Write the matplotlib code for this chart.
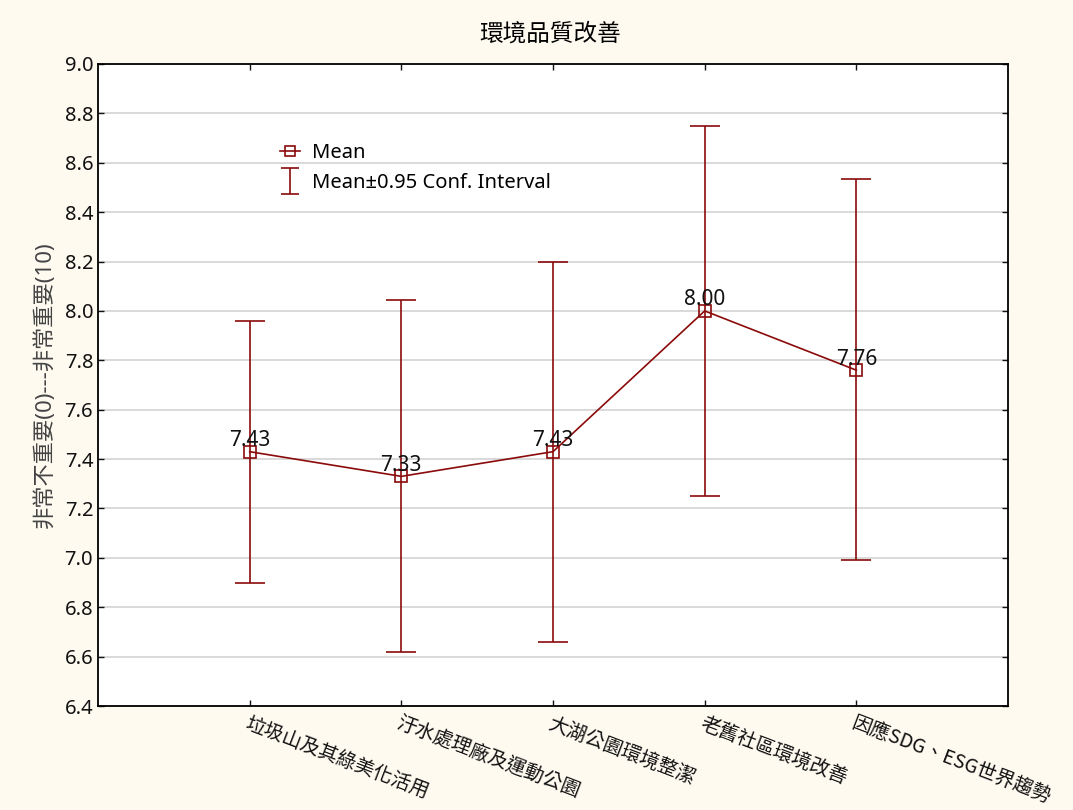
import matplotlib.pyplot as plt
from matplotlib.lines import Line2D
from matplotlib.legend_handler import HandlerErrorbar

plt.rcParams['font.family'] = ['Noto Sans', 'Noto Sans CJK TC', 'DejaVu Sans']

# datos
categorias = ['垃圾山及其綠美化活用', '汙水處理廠及運動公園', '大湖公園環境整潔',
              '老舊社區環境改善', '因應SDG、ESG世界趨勢']
medias = [7.43, 7.33, 7.43, 8.00, 7.76]
ic_inf = [6.90, 6.62, 6.66, 7.25, 6.99]
ic_sup = [7.96, 8.045, 8.20, 8.75, 8.535]
yticks = [6.4, 6.6, 6.8, 7.0, 7.2, 7.4, 7.6, 7.8, 8.0, 8.2, 8.4, 8.6, 8.8, 9.0]

rojo = '#8b0a0a'
fondo = '#fefaf0'

fig = plt.figure(figsize=(10.73, 8.1), dpi=100, facecolor=fondo)
ax = fig.add_axes([98/1073, 1 - 706/810, 910/1073, 642/810])
ax.set_facecolor('white')

x = list(range(1, len(categorias) + 1))
err_abajo = [m - lo for m, lo in zip(medias, ic_inf)]
err_arriba = [hi - m for m, hi in zip(medias, ic_sup)]

ax.errorbar(x, medias, yerr=[err_abajo, err_arriba], fmt='none', ecolor=rojo,
            elinewidth=1.2, capsize=11, capthick=1.2, zorder=3)
ax.plot(x, medias, color=rojo, lw=1.2, marker='s', markersize=8,
        markerfacecolor='none', markeredgecolor=rojo, markeredgewidth=1.2, zorder=4)

for xi, m in zip(x, medias):
    ax.annotate(f'{m:.2f}', (xi, m), xytext=(0, 4), textcoords='offset points',
                ha='center', va='baseline', fontsize=15, color='#111111', zorder=5)

ax.set_xlim(0, 6)
ax.set_ylim(6.4, 9.0)
ax.set_yticks(yticks)
ax.set_yticklabels([f'{v:.1f}' for v in yticks])
ax.set_xticks(x)
ax.set_xticklabels(categorias, rotation=-21, ha='left', va='top', rotation_mode='anchor',
                   fontsize=14, family=['Noto Sans CJK TC', 'DejaVu Sans'])
ax.tick_params(axis='both', direction='in', length=4, width=1, top=True, right=True,
               labelsize=14.5, colors='#111111')
ax.tick_params(axis='x', pad=5, labelsize=14)
ax.grid(axis='y', color='#d9d9d9', lw=1.4, zorder=0)
ax.set_axisbelow(True)
for s in ax.spines.values():
    s.set_linewidth(1.3)
    s.set_color('black')

ax.set_ylabel('非常不重要(0)---非常重要(10)', fontsize=16, color='#444444', labelpad=6)
fig.text(0.513, 1 - 34/810, '環境品質改善', ha='center', va='center', fontsize=17,
         family=['Noto Sans CJK TC', 'DejaVu Sans'])

# leyenda
h_media = Line2D([], [], color=rojo, lw=1.2, marker='s', markersize=7,
                 markerfacecolor='none', markeredgewidth=1.2)
h_ic = ax.errorbar([-10], [7.0], yerr=[0.2], fmt='none', ecolor=rojo, elinewidth=1.2,
                   capsize=6.5, capthick=1.2)
leg = ax.legend([h_media, h_ic], ['Mean', 'Mean±0.95 Conf. Interval'],
                loc='upper left', bbox_to_anchor=(0.18, 0.905), frameon=False,
                fontsize=14.5, handlelength=1.0, handletextpad=0.6, labelspacing=0.5,
                handler_map={type(h_ic): HandlerErrorbar(yerr_size=0.65)})

fig.savefig('out.png', dpi=100, facecolor=fondo)
